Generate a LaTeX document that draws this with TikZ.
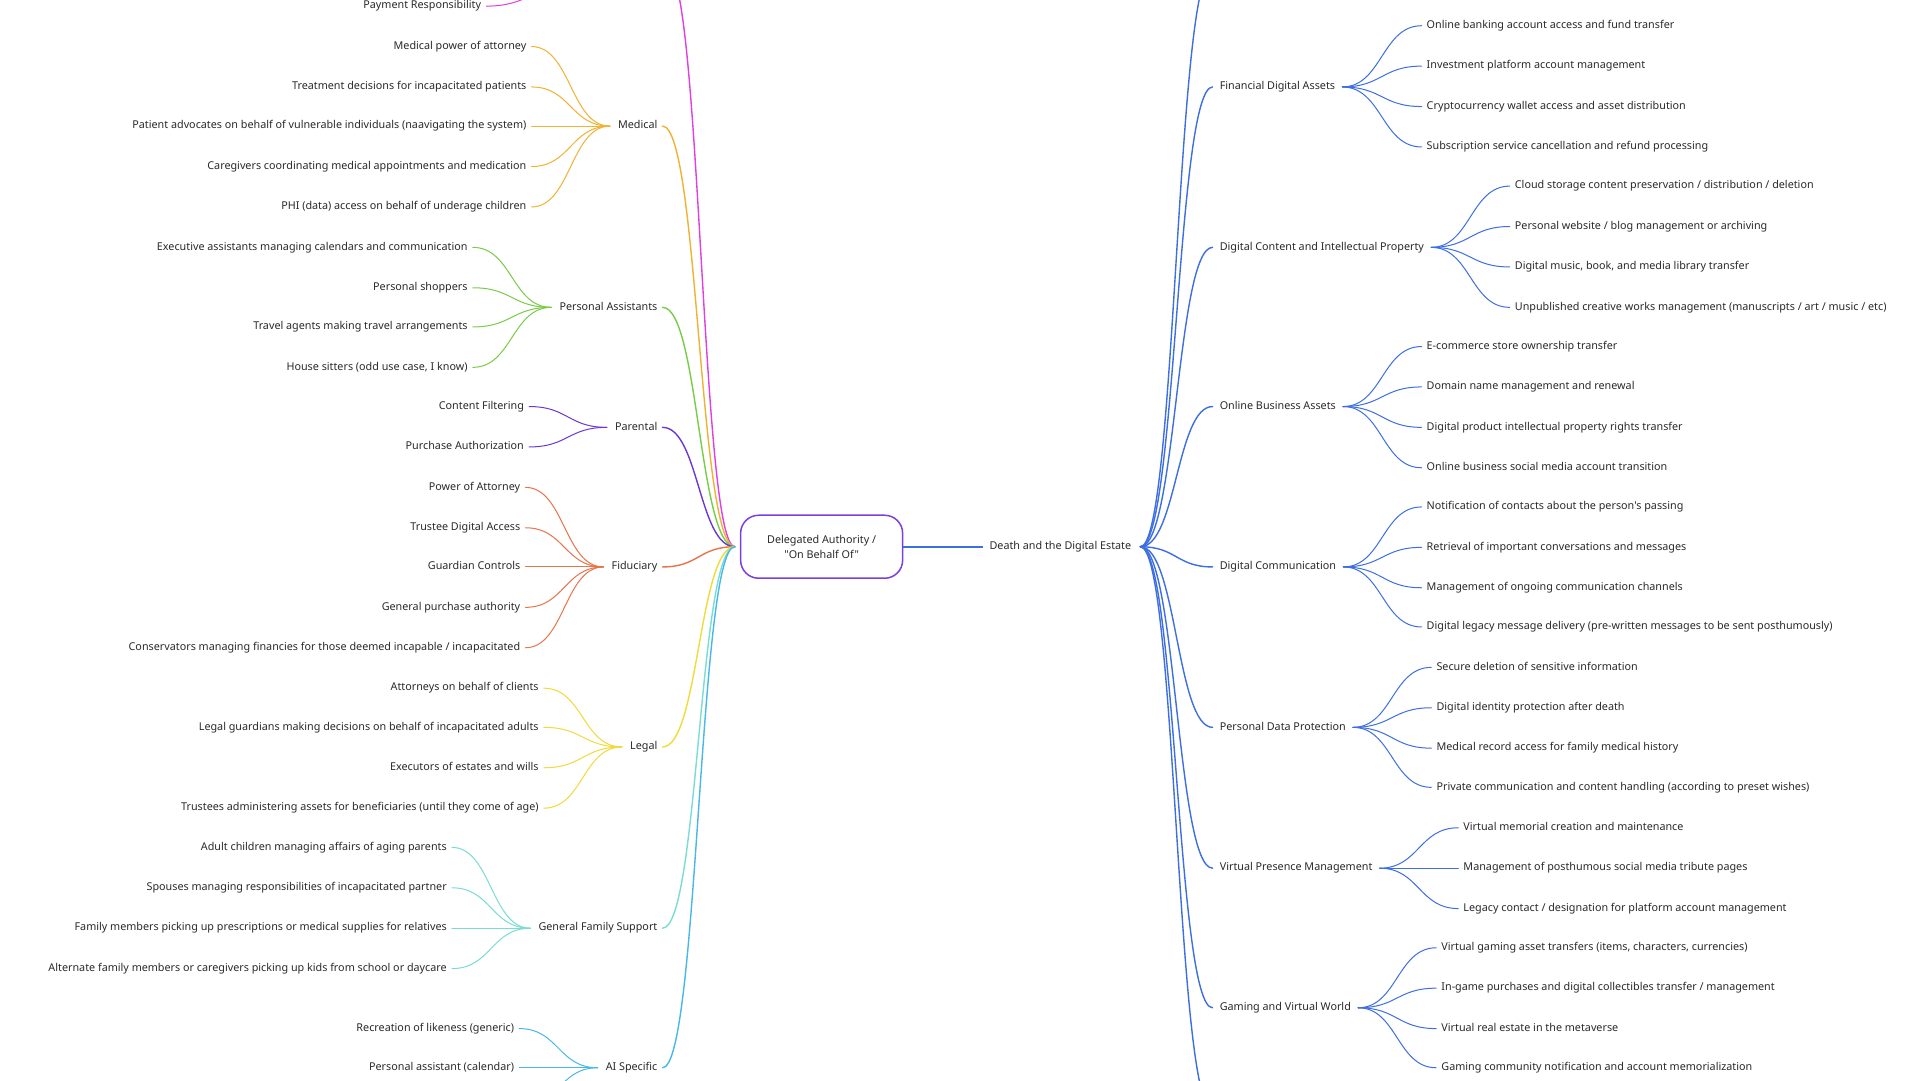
\documentclass[tikz,border=0pt]{standalone}
\usepackage{fontspec}
\setmainfont{Noto Sans}
\newfontfamily\nsans{Noto Sans}
\usetikzlibrary{calc}
\definecolor{textC}{HTML}{2A2A2A}
\definecolor{cMag}{HTML}{E040E0}
\definecolor{cMed}{HTML}{F0B232}
\definecolor{cPA}{HTML}{78CC48}
\definecolor{cPar}{HTML}{6A38D8}
\definecolor{cFid}{HTML}{E8744C}
\definecolor{cLeg}{HTML}{F2DA3A}
\definecolor{cFam}{HTML}{7ADCD2}
\definecolor{cAI}{HTML}{48B8E8}
\definecolor{cBlue}{HTML}{3D6FE0}
\definecolor{cBox}{HTML}{7B3FE0}
\tikzset{
  txt/.style={inner sep=0pt, font=\nsans\fontsize{10.78}{12.5}\selectfont, text=textC, text height=7.8pt, text depth=2.35pt},
  nL/.style={txt, anchor=east},
  nR/.style={txt, anchor=west},
  leafln/.style={line width=1pt, line cap=round},
  mainln/.style={line width=1.4pt, line cap=round},
  deathln/.style={line width=2.4pt, cBlue},
  centerbox/.style={draw=cBox, line width=1.5pt, rounded corners=18pt, minimum width=162pt, minimum height=63pt, align=center, inner sep=2pt, font=\nsans\fontsize{10.78}{14.8}\selectfont, text=textC}
}
\newcommand{\lnk}[3]{\draw[#1] let \p1=(#2), \p2=(#3) in (\p1) .. controls ({(\x1+\x2)/2},\y1) and ({(\x1+\x2)/2},\y2) .. (\p2);}
% left leaf: name, colour, x, y, join, text
\newcommand{\lf}[6]{\node[nL] (#1) at (#3,#4) {#6};\lnk{leafln,#2}{#5}{[xshift=5pt]#1.east}}
% right leaf
\newcommand{\rf}[6]{\node[nR] (#1) at (#3,#4) {#6};\lnk{leafln,#2}{#5}{[xshift=-5pt]#1.west}}
% left group: name, colour, x, y, text
\newcommand{\gl}[5]{\node[nL] (#1) at (#3,#4) {#5};\coordinate (#1J) at ([xshift=-8pt]#1.west);\lnk{mainln,#2}{cJ}{[xshift=5pt]#1.east}}
% right group
\newcommand{\gr}[5]{\node[nR] (#1) at (#3,#4) {#5};\coordinate (#1J) at ([xshift=7pt]#1.east);\lnk{mainln,#2}{dJ}{[xshift=-7pt]#1.west}}
\begin{document}
\begin{tikzpicture}[x=1.2245pt,y=-1.2245pt]
\path[use as bounding box] (0,0) rectangle (1568,882);
\fill[white] (0,0) rectangle (1568,882);
\clip (0,0) rectangle (1568,882);

\node[centerbox] (ctr) at (671,446.5) {Delegated Authority /\\"On Behalf Of"};
\coordinate (cJ) at ([xshift=-5pt]ctr.west);
\node[nR] (death) at (808,446.5) {Death and the Digital Estate};
\coordinate (dJ) at ([xshift=9pt]death.east);
\draw[deathln] (ctr.east) -- ([xshift=-6pt]death.west);

% ---- left side ----
\coordinate (payE) at (545,-25);
\lnk{mainln,cMag}{cJ}{payE}
\coordinate (payJ) at (490,-25);
\lf{pay}{cMag}{393}{5}{payJ}{Payment Responsibility}

\gl{med}{cMed}{537}{103}{Medical}
\lf{med1}{cMed}{430}{38}{medJ}{Medical power of attorney}
\lf{med2}{cMed}{430}{71}{medJ}{Treatment decisions for incapacitated patients}
\lf{med3}{cMed}{430}{103}{medJ}{Patient advocates on behalf of vulnerable individuals (naavigating the system)}
\lf{med4}{cMed}{430}{136}{medJ}{Caregivers coordinating medical appointments and medication}
\lf{med5}{cMed}{430}{169}{medJ}{PHI (data) access on behalf of underage children}

\gl{pa}{cPA}{537}{251}{Personal Assistants}
\lf{pa1}{cPA}{382}{202}{paJ}{Executive assistants managing calendars and communication}
\lf{pa2}{cPA}{382}{235}{paJ}{Personal shoppers}
\lf{pa3}{cPA}{382}{267}{paJ}{Travel agents making travel arrangements}
\lf{pa4}{cPA}{382}{300}{paJ}{House sitters (odd use case, I know)}

\gl{par}{cPar}{537}{349}{Parental}
\lf{par1}{cPar}{428}{332}{parJ}{Content Filtering}
\lf{par2}{cPar}{428}{365}{parJ}{Purchase Authorization}

\gl{fid}{cFid}{537}{463}{Fiduciary}
\lf{fid1}{cFid}{425}{398}{fidJ}{Power of Attorney}
\lf{fid2}{cFid}{425}{431}{fidJ}{Trustee Digital Access}
\lf{fid3}{cFid}{425}{463}{fidJ}{Guardian Controls}
\lf{fid4}{cFid}{425}{496}{fidJ}{General purchase authority}
\lf{fid5}{cFid}{425}{529}{fidJ}{Conservators managing financies for those deemed incapable / incapacitated}

\gl{leg}{cLeg}{537}{610}{Legal}
\lf{leg1}{cLeg}{440}{562}{legJ}{Attorneys on behalf of clients}
\lf{leg2}{cLeg}{440}{594}{legJ}{Legal guardians making decisions on behalf of incapacitated adults}
\lf{leg3}{cLeg}{440}{627}{legJ}{Executors of estates and wills}
\lf{leg4}{cLeg}{440}{660}{legJ}{Trustees administering assets for beneficiaries (until they come of age)}

\gl{fam}{cFam}{537}{758}{General Family Support}
\lf{fam1}{cFam}{365}{692}{famJ}{Adult children managing affairs of aging parents}
\lf{fam2}{cFam}{365}{725}{famJ}{Spouses managing responsibilities of incapacitated partner}
\lf{fam3}{cFam}{365}{758}{famJ}{Family members picking up prescriptions or medical supplies for relatives}
\lf{fam4}{cFam}{365}{791}{famJ}{Alternate family members or caregivers picking up kids from school or daycare}

\gl{ai}{cAI}{537}{872}{AI Specific}
\lf{ai1}{cAI}{420}{840}{aiJ}{Recreation of likeness (generic)}
\lf{ai2}{cAI}{420}{872}{aiJ}{Personal assistant (calendar)}
\coordinate (ai3E) at (424,905);
\lnk{leafln,cAI}{aiJ}{ai3E}

% ---- right side ----
\coordinate (dTop) at (990,-25);
\lnk{mainln,cBlue}{dJ}{dTop}
\coordinate (dBot) at (990,906);
\lnk{mainln,cBlue}{dJ}{dBot}

\gr{fin}{cBlue}{996}{71}{Financial Digital Assets}
\rf{fin1}{cBlue}{1165}{21}{finJ}{Online banking account access and fund transfer}
\rf{fin2}{cBlue}{1165}{54}{finJ}{Investment platform account management}
\rf{fin3}{cBlue}{1165}{87}{finJ}{Cryptocurrency wallet access and asset distribution}
\rf{fin4}{cBlue}{1165}{120}{finJ}{Subscription service cancellation and refund processing}

\gr{dc}{cBlue}{996}{202}{Digital Content and Intellectual Property}
\rf{dc1}{cBlue}{1237}{152}{dcJ}{Cloud storage content preservation / distribution / deletion}
\rf{dc2}{cBlue}{1237}{185}{dcJ}{Personal website / blog management or archiving}
\rf{dc3}{cBlue}{1237}{218}{dcJ}{Digital music, book, and media library transfer}
\rf{dc4}{cBlue}{1237}{251}{dcJ}{Unpublished creative works management (manuscripts / art / music / etc)}

\gr{ob}{cBlue}{996}{332}{Online Business Assets}
\rf{ob1}{cBlue}{1165}{283}{obJ}{E-commerce store ownership transfer}
\rf{ob2}{cBlue}{1165}{316}{obJ}{Domain name management and renewal}
\rf{ob3}{cBlue}{1165}{349}{obJ}{Digital product intellectual property rights transfer}
\rf{ob4}{cBlue}{1165}{382}{obJ}{Online business social media account transition}

\gr{com}{cBlue}{996}{463}{Digital Communication}
\rf{com1}{cBlue}{1165}{414}{comJ}{Notification of contacts about the person's passing}
\rf{com2}{cBlue}{1165}{447}{comJ}{Retrieval of important conversations and messages}
\rf{com3}{cBlue}{1165}{480}{comJ}{Management of ongoing communication channels}
\rf{com4}{cBlue}{1165}{512}{comJ}{Digital legacy message delivery (pre-written messages to be sent posthumously)}

\gr{pdp}{cBlue}{996}{594}{Personal Data Protection}
\rf{pdp1}{cBlue}{1173}{545}{pdpJ}{Secure deletion of sensitive information}
\rf{pdp2}{cBlue}{1173}{578}{pdpJ}{Digital identity protection after death}
\rf{pdp3}{cBlue}{1173}{611}{pdpJ}{Medical record access for family medical history}
\rf{pdp4}{cBlue}{1173}{643}{pdpJ}{Private communication and content handling (according to preset wishes)}

\gr{vpm}{cBlue}{996}{709}{Virtual Presence Management}
\rf{vpm1}{cBlue}{1195}{676}{vpmJ}{Virtual memorial creation and maintenance}
\rf{vpm2}{cBlue}{1195}{709}{vpmJ}{Management of posthumous social media tribute pages}
\rf{vpm3}{cBlue}{1195}{742}{vpmJ}{Legacy contact / designation for platform account management}

\gr{gam}{cBlue}{996}{823}{Gaming and Virtual World}
\rf{gam1}{cBlue}{1177}{774}{gamJ}{Virtual gaming asset transfers (items, characters, currencies)}
\rf{gam2}{cBlue}{1177}{807}{gamJ}{In-game purchases and digital collectibles transfer / management}
\rf{gam3}{cBlue}{1177}{840}{gamJ}{Virtual real estate in the metaverse}
\rf{gam4}{cBlue}{1177}{872}{gamJ}{Gaming community notification and account memorialization}
\end{tikzpicture}
\end{document}
